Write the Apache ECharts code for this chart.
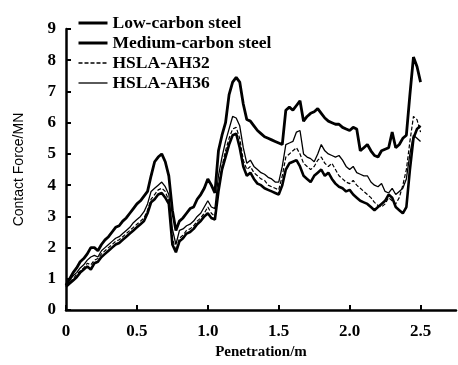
<!DOCTYPE html>
<html>
<head>
<meta charset="utf-8">
<script src="https://cdn.jsdelivr.net/npm/echarts@6/dist/echarts.min.js"></script>
<style>
  html, body { margin: 0; padding: 0; background: #fff; }
  #chart { width: 458px; height: 365px; }
</style>
</head>
<body>
<div id="chart"></div>
<script>
// penetration in m, step 0.025
const penetration = [];
for (let i = 0; i <= 100; i++) penetration.push(+(i * 0.025).toFixed(3));

const seriesNames = ["Low-carbon steel", "Medium-carbon steel", "HSLA-AH32", "HSLA-AH36"];

const mediumCarbon = [
  0.8, 1.0, 1.2, 1.35, 1.55, 1.65, 1.8, 2.0, 2.0, 1.9,
  2.1, 2.25, 2.35, 2.5, 2.65, 2.7, 2.85, 2.95, 3.1, 3.25,
  3.4, 3.5, 3.65, 3.8, 4.3, 4.75, 4.9, 5.0, 4.75, 4.3,
  3.2, 2.55, 2.85, 2.95, 3.1, 3.25, 3.3, 3.55, 3.7, 3.9,
  4.2, 4.0, 3.75, 5.1, 5.6, 6.0, 6.9, 7.3, 7.45, 7.3,
  6.6, 6.1, 6.05, 5.9, 5.75, 5.65, 5.55, 5.5, 5.45, 5.4,
  5.35, 5.3, 6.4, 6.5, 6.4, 6.55, 6.7, 6.05, 6.2, 6.3,
  6.35, 6.45, 6.3, 6.15, 6.05, 6.0, 5.95, 5.95, 5.85, 5.8,
  5.75, 5.85, 5.8, 5.1, 5.2, 5.3, 5.1, 4.95, 4.9, 5.1,
  5.15, 5.2, 5.7, 5.2, 5.3, 5.5, 5.6, 6.9, 8.1, 7.8,
  7.3
];

const ah36 = [
  0.8, 0.95, 1.1, 1.2, 1.35, 1.45, 1.6, 1.7, 1.75, 1.7,
  1.9, 2.0, 2.1, 2.2, 2.3, 2.35, 2.45, 2.55, 2.65, 2.8,
  2.9, 3.0, 3.15, 3.4, 3.8, 3.9, 4.0, 4.1, 3.95, 3.7,
  2.6, 2.1, 2.55, 2.6, 2.7, 2.75, 2.85, 3.0, 3.1, 3.3,
  3.5, 3.3, 3.25, 4.3, 4.9, 5.4, 5.8, 6.2, 6.15, 5.9,
  5.2, 4.7, 4.8, 4.6, 4.5, 4.4, 4.35, 4.25, 4.2, 4.1,
  4.1, 4.6, 5.3, 5.35, 5.4, 5.7, 5.75, 5.0, 4.9, 4.85,
  4.75, 5.0, 5.3, 5.1, 5.0, 4.95, 4.9, 4.95, 4.8, 4.6,
  4.5, 4.6, 4.4, 4.35, 4.3, 4.3, 4.1, 4.0, 3.95, 4.05,
  3.8, 3.75, 3.9, 3.7, 3.8, 3.9, 4.2, 5.0, 5.6, 5.5,
  5.4
];

const ah32 = [
  0.75, 0.9, 1.0, 1.15, 1.25, 1.35, 1.5, 1.45, 1.6, 1.65,
  1.8, 1.9, 2.0, 2.1, 2.2, 2.25, 2.35, 2.45, 2.55, 2.65,
  2.75, 2.85, 2.95, 3.2, 3.55, 3.7, 3.85, 3.9, 3.8, 3.5,
  2.3, 1.9, 2.3, 2.4, 2.55, 2.6, 2.7, 2.85, 2.95, 3.1,
  3.3, 3.1, 3.0, 4.0, 4.6, 5.1, 5.5, 5.8, 5.85, 5.5,
  4.8, 4.5, 4.6, 4.4, 4.3, 4.2, 4.15, 4.0, 3.95, 3.9,
  3.85, 4.3, 4.9, 5.0, 5.1, 5.2, 5.0, 4.7, 4.6, 4.5,
  4.6, 4.8, 4.9, 4.7, 4.6, 4.7, 4.5, 4.3, 4.2, 4.1,
  4.05, 4.15, 4.0, 3.9, 3.8, 3.7, 3.6, 3.45, 3.35, 3.3,
  3.4, 3.6, 3.5, 3.4, 3.6, 4.0, 4.5, 5.4, 6.2, 6.1,
  5.7
];

const lowCarbon = [
  0.75, 0.85, 0.95, 1.05, 1.2, 1.3, 1.4, 1.3, 1.5, 1.55,
  1.7, 1.8, 1.9, 2.0, 2.1, 2.15, 2.25, 2.35, 2.45, 2.55,
  2.65, 2.75, 2.85, 3.1, 3.45, 3.55, 3.7, 3.75, 3.6, 3.4,
  2.1, 1.85, 2.2, 2.3, 2.45, 2.5, 2.6, 2.75, 2.85, 3.0,
  3.1, 2.95, 2.9, 3.8, 4.5, 4.9, 5.3, 5.6, 5.65, 5.2,
  4.6, 4.3, 4.4, 4.2, 4.05, 4.0, 3.9, 3.85, 3.8, 3.75,
  3.7, 4.0, 4.5, 4.7, 4.75, 4.8, 4.6, 4.3, 4.2, 4.1,
  4.3, 4.4, 4.5, 4.3, 4.4, 4.2, 4.05, 3.95, 3.9, 3.8,
  3.85, 3.7, 3.6, 3.5, 3.45, 3.4, 3.3, 3.2, 3.3, 3.4,
  3.5, 3.7, 3.6, 3.3, 3.2, 3.1, 3.3, 4.5, 5.5, 5.8,
  5.9
];

const pair = (ys) => penetration.map((x, i) => [x, ys[i]]);

const serifBold = {
  fontFamily: "Liberation Serif",
  fontWeight: "bold",
  fontSize: 17,
  color: "#000"
};

const lineWidths = [2.6, 2.8, 1.2, 1.3];

const makeLine = (name, data, width, dash) => ({
  name: name,
  type: "line",
  symbol: "none",
  smooth: false,
  data: pair(data),
  lineStyle: { color: "#000", width: width, type: dash || "solid" },
  itemStyle: { color: "#000" }
});

const chart = echarts.init(document.getElementById("chart"), null, { renderer: "canvas" });

chart.setOption({
  backgroundColor: "#fff",
  animation: false,
  grid: { left: 66, right: 2, top: 29, bottom: 48 },
  legend: {
    data: seriesNames.map((n, i) => ({
      name: n,
      lineStyle: { width: i < 2 ? 3 : 1.3 }
    })),
    orient: "vertical",
    left: 72,
    top: 9,
    itemWidth: 29,
    itemHeight: 10,
    itemGap: 2,
    itemStyle: { opacity: 0 }, // line only, no dot
    textStyle: { ...serifBold, fontSize: 17.5, lineHeight: 18 }
  },
  xAxis: {
    type: "value",
    min: 0,
    max: 2.75,
    interval: 0.5,
    name: "Penetration/m",
    nameLocation: "middle",
    nameGap: 34,
    nameTextStyle: { fontFamily: "Liberation Serif", fontWeight: "bold", fontSize: 15, color: "#000" },
    axisLine: { lineStyle: { color: "#000", width: 2.5 } },
    axisTick: { inside: true, length: 5, lineStyle: { color: "#000", width: 2 } },
    axisLabel: {
      ...serifBold,
      margin: 13,
      showMaxLabel: false,
      formatter: (v) => (v === 0 ? "0" : (Math.abs(v * 2 - Math.round(v * 2)) < 1e-6 ? v.toFixed(1) : ""))
    },
    splitLine: { show: false }
  },
  yAxis: {
    type: "value",
    min: 0,
    max: 9,
    interval: 1,
    name: "Contact Force/MN",
    nameLocation: "middle",
    nameGap: 40,
    nameTextStyle: { fontFamily: "Liberation Sans", fontSize: 14, color: "#000" },
    axisLine: { show: true, lineStyle: { color: "#000", width: 2.5 } },
    axisTick: { show: true, inside: true, length: 5, lineStyle: { color: "#000", width: 2 } },
    axisLabel: { ...serifBold, margin: 10 },
    splitLine: { show: false }
  },
  series: [
    makeLine(seriesNames[0], lowCarbon, lineWidths[0]),
    makeLine(seriesNames[1], mediumCarbon, lineWidths[1]),
    makeLine(seriesNames[2], ah32, lineWidths[2], [4, 2]),
    makeLine(seriesNames[3], ah36, lineWidths[3])
  ]
});
</script>
</body>
</html>
